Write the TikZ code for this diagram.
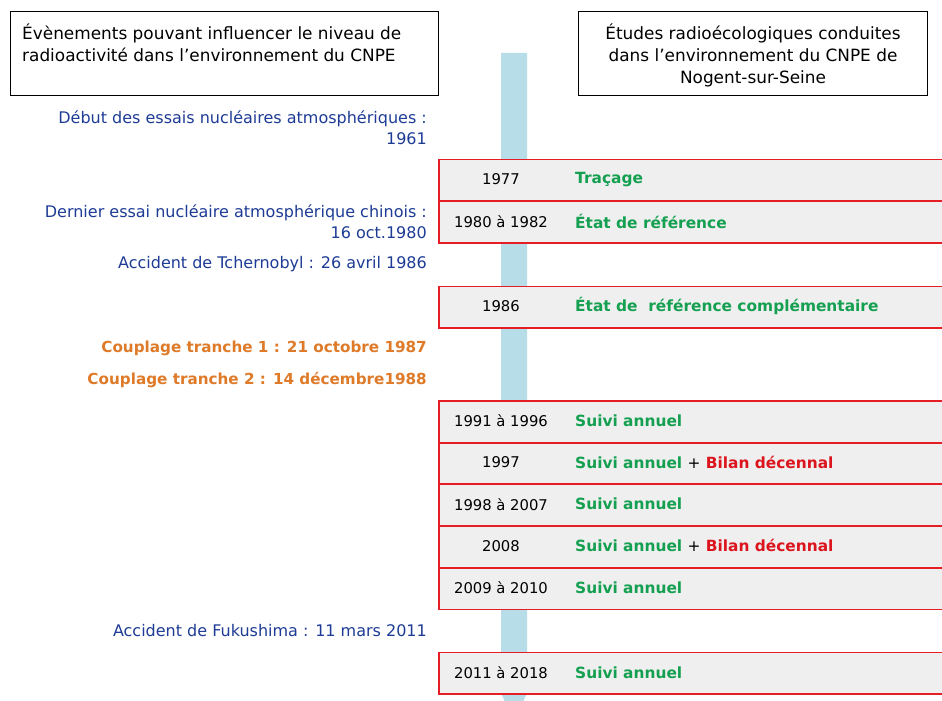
\documentclass[tikz,border=0pt]{standalone}
\usepackage{fontspec}
\setmainfont{DejaVu Sans}
\definecolor{evblue}{RGB}{30,60,150}
\definecolor{evorange}{RGB}{222,122,40}
\definecolor{stgreen}{RGB}{20,160,80}
\definecolor{stred}{RGB}{220,20,30}
\definecolor{rowred}{RGB}{228,30,36}
\definecolor{rowgray}{RGB}{239,239,239}
\definecolor{barblue}{RGB}{183,221,232}
\tikzset{
  hdrbox/.style={draw=black, line width=1pt, anchor=north west, inner sep=0pt},
  txt/.style={inner sep=0pt},
  hdrtxt/.style={txt, font=\fontsize{16.9}{22}\selectfont},
  evtxt/.style={txt, text=evblue, anchor=east, align=right, font=\fontsize{16}{21}\selectfont},
  cptxt/.style={txt, text=evorange, anchor=east, font=\fontsize{15.2}{21}\selectfont\bfseries},
  rowbox/.style={draw=rowred, line width=1.8pt, fill=rowgray, anchor=north west, minimum width=506pt, minimum height=41.7pt, inner sep=0pt},
  yeartxt/.style={txt, text=black, font=\fontsize{14.8}{21}\selectfont},
  desctxt/.style={txt, anchor=west, font=\fontsize{15.4}{21}\selectfont\bfseries, text=stgreen},
}
\newcommand{\bil}{\textcolor{stred}{Bilan décennal}}
\newcommand{\plus}{\textcolor{black}{\mdseries +}}
\begin{document}
\begin{tikzpicture}[x=1pt,y=-1pt]
\useasboundingbox[fill=white] (0,0) rectangle (942,701);
% vertical bar with arrow
\fill[barblue] (501,53) -- (527,53) -- (527,693) -- (514,722) -- (501,693) -- cycle;
% header boxes
\node[hdrbox, minimum width=428pt, minimum height=84pt] (lbox) at (10,11) {};
\node[hdrtxt, anchor=north west, align=left] (ltxt) at (22,24) {Évènements pouvant influencer le niveau de\\radioactivité dans l’environnement du CNPE};
\node[hdrbox, minimum width=349pt, minimum height=84pt] (rbox) at (578,11) {};
\node[hdrtxt, anchor=north, align=center] (rtxt) at (753,24) {Études radioécologiques conduites\\dans l’environnement du CNPE de\\Nogent-sur-Seine};
% left events
\node[evtxt] (e1) at (427,127.5) {Début des essais nucléaires atmosphériques :\\1961};
\node[evtxt] (e2) at (427,222) {Dernier essai nucléaire atmosphérique chinois :\\16 oct.1980};
\node[evtxt] (e3) at (427,264) {Accident de Tchernobyl : 26 avril 1986};
\node[cptxt] (e4) at (427,348) {Couplage tranche 1 : 21 octobre 1987};
\node[cptxt] (e5) at (427,380) {Couplage tranche 2 : 14 décembre1988};
\node[evtxt] (e6) at (427,631) {Accident de Fukushima : 11 mars 2011};
% rows
\node[rowbox] (r1) at (438,158.5) {};
\node[rowbox] (r2) at (438,200.5) {};
\node[rowbox] (r3) at (438,285.5) {};
\node[rowbox] (r4) at (438,400) {};
\node[rowbox] (r5) at (438,441.7) {};
\node[rowbox] (r6) at (438,483.4) {};
\node[rowbox] (r7) at (438,525.1) {};
\node[rowbox] (r8) at (438,566.8) {};
\node[rowbox] (r9) at (438,651.5) {};
% years
\node[yeartxt] (y1) at (501,179.3) {1977};
\node[yeartxt] (y2) at (501,221.3) {1980 à 1982};
\node[yeartxt] (y3) at (501,306.3) {1986};
\node[yeartxt] (y4) at (501,420.8) {1991 à 1996};
\node[yeartxt] (y5) at (501,462.5) {1997};
\node[yeartxt] (y6) at (501,504.2) {1998 à 2007};
\node[yeartxt] (y7) at (501,545.9) {2008};
\node[yeartxt] (y8) at (501,587.6) {2009 à 2010};
\node[yeartxt] (y9) at (501,672.3) {2011 à 2018};
% descriptions
\node[desctxt] (d1) at (575,179.3) {Traçage};
\node[desctxt] (d2) at (575,221.3) {État de référence};
\node[desctxt] (d3) at (575,306.3) {État de\ \ référence complémentaire};
\node[desctxt] (d4) at (575,420.8) {Suivi annuel};
\node[desctxt] (d5) at (575,462.5) {Suivi annuel \plus{} \bil};
\node[desctxt] (d6) at (575,504.2) {Suivi annuel};
\node[desctxt] (d7) at (575,545.9) {Suivi annuel \plus{} \bil};
\node[desctxt] (d8) at (575,587.6) {Suivi annuel};
\node[desctxt] (d9) at (575,672.3) {Suivi annuel};
\end{tikzpicture}
\end{document}
